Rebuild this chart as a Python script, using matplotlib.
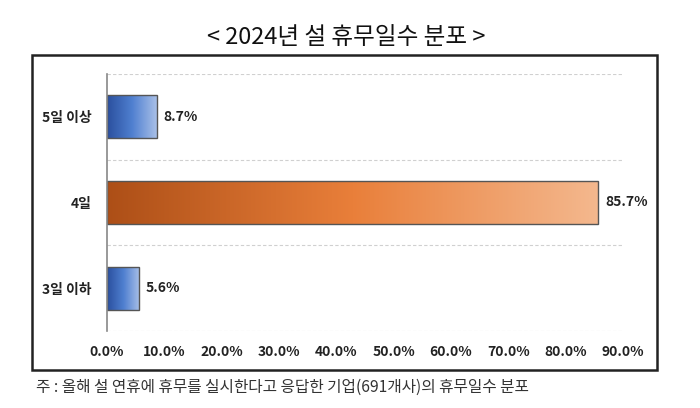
import numpy as np
import matplotlib
matplotlib.use("Agg")
import matplotlib.pyplot as plt
from matplotlib.patches import Rectangle
from matplotlib.colors import LinearSegmentedColormap

plt.rcParams['font.family'] = ['Noto Sans CJK KR', 'DejaVu Sans']

categories = ["3일 이하", "4일", "5일 이상"]
values = [5.6, 85.7, 8.7]
xticks = [0, 10, 20, 30, 40, 50, 60, 70, 80, 90]
title = "< 2024년 설 휴무일수 분포 >"
note = "주 : 올해 설 연휴에 휴무를 실시한다고 응답한 기업(691개사)의 휴무일수 분포"

blue = LinearSegmentedColormap.from_list("b", ["#2a4f9e", "#4f7fd0", "#a9c0e8"])
orange = LinearSegmentedColormap.from_list("o", ["#ad4f17", "#e97f3a", "#f4b88e"])
cmaps = [blue, orange, blue]

fig = plt.figure(figsize=(7, 4.08), dpi=100)
fig.patches.append(Rectangle((32/700, 38/408), 625/700, 315/408, transform=fig.transFigure,
                             fill=False, edgecolor="#222222", lw=1.8))
ax = fig.add_axes([107/700, 77/408, 516/700, 257/408])

grad = np.linspace(0, 1, 256).reshape(1, -1)
bars = ax.barh(range(len(values)), values, height=0.5, color="none", edgecolor="#555555", lw=1, zorder=3)
for b, cm, v in zip(bars, cmaps, values):
    y0 = b.get_y(); h = b.get_height()
    im = ax.imshow(grad, cmap=cm, aspect="auto", extent=(0, v, y0, y0 + h), zorder=2)
    im.set_clip_path(b)
    ax.text(v + 1.2, y0 + h/2, f"{v:.1f}%", va="center", ha="left", fontsize=10, fontweight="bold", color="#222222")

ax.set_xlim(0, 90)
ax.set_ylim(-0.5, 2.5)
ax.set_yticks(range(len(categories)))
ax.set_yticklabels(categories, fontsize=10, fontweight="bold", color="#222222")
ax.set_xticks(xticks)
ax.set_xticklabels([f"{t:.1f}%" for t in xticks], fontsize=10, fontweight="bold", color="#222222")
ax.tick_params(length=0)
ax.tick_params(axis="y", pad=11)
ax.tick_params(axis="x", pad=10)
for yy in [-0.5, 0.5, 1.5, 2.5]:
    ax.axhline(yy, color="#d0d0d0", ls=(0, (3, 2)), lw=0.8, zorder=1)
for s in ["top", "right", "bottom"]:
    ax.spines[s].set_visible(False)
ax.spines["left"].set_color("#888888")
ax.spines["left"].set_linewidth(1.2)
ax.spines["left"].set_zorder(4)

fig.text(346/700, 1 - 38/408, title, ha="center", va="center", fontsize=17, color="#111111")
fig.text(36/700, 1 - 387/408, note, ha="left", va="center", fontsize=11.3, color="#333333")

fig.savefig("out.png", dpi=100)
